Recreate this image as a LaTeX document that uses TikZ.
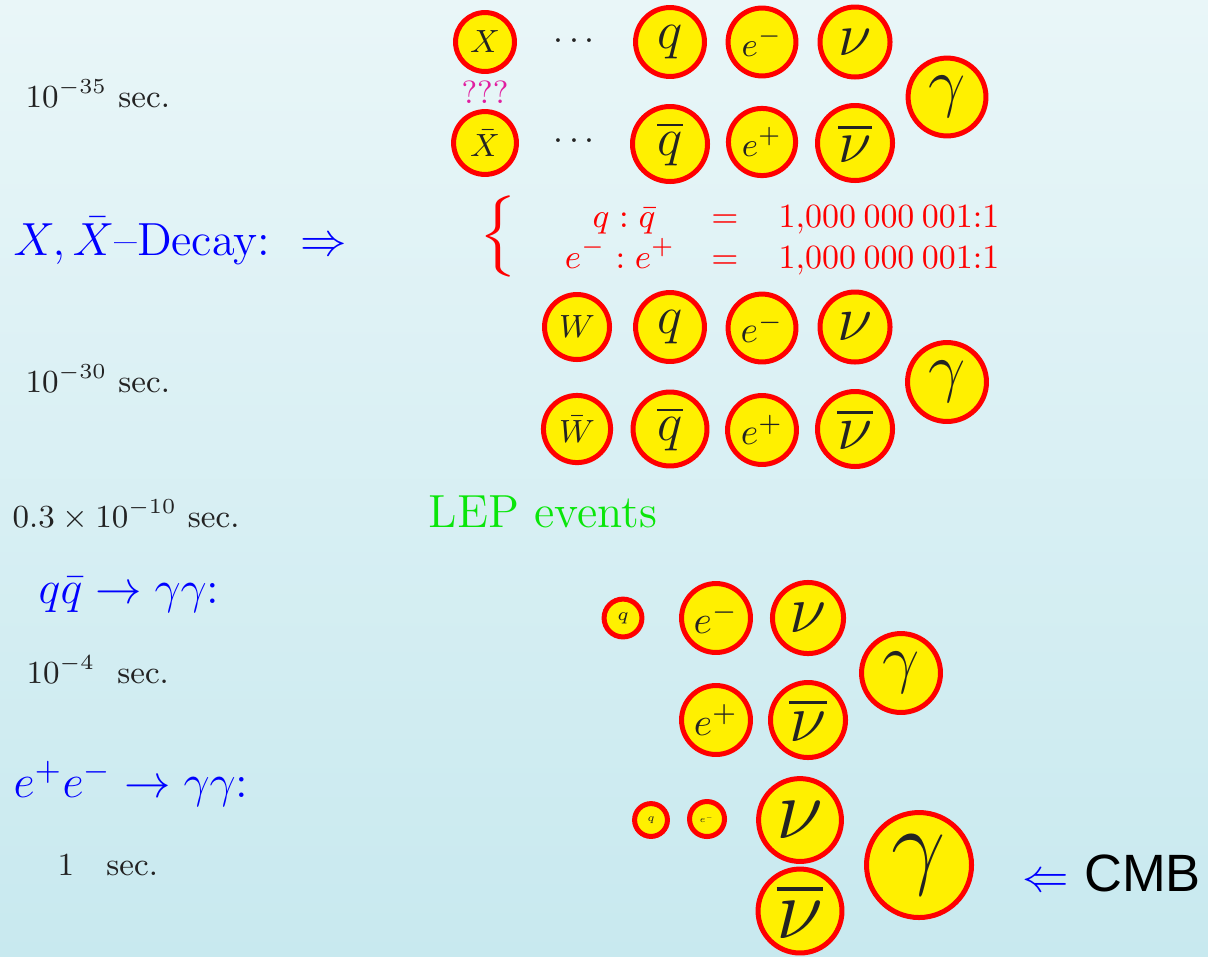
\RequirePackage{fix-cm}
\documentclass[tikz,border=0pt]{standalone}
\usepackage{amsmath,amssymb}
\usepackage{fontspec}
\newfontfamily\cmbfont{Liberation Sans}
\usepackage{tikz}
\usetikzlibrary{shapes.geometric}
\usepackage{xcolor}
\definecolor{bgtop}{RGB}{233,246,248}
\definecolor{bgbot}{RGB}{200,233,239}
\definecolor{ptyellow}{RGB}{255,240,0}
\definecolor{ptred}{RGB}{255,0,0}
\definecolor{txtgray}{RGB}{35,35,35}
\definecolor{lepgreen}{RGB}{10,230,10}
\definecolor{qmagenta}{RGB}{225,30,160}
\definecolor{decblue}{RGB}{0,0,255}
\newcommand{\fs}[1]{\fontsize{#1}{1.2\dimexpr#1pt\relax}\selectfont}
\tikzset{
    ptcl/.style={circle, draw=ptred, fill=ptyellow, line width=1.4pt,
                 minimum size=#1, inner sep=0pt, text=txtgray},
    tlbl/.style={anchor=base west, inner sep=0pt, text=txtgray, font=\fs{9}},
    blbl/.style={anchor=base west, inner sep=0pt, text=decblue, font=\fs{13}},
    ratio/.style={inner sep=0pt, text=ptred, font=\fs{9.5}},
}

\begin{document}
\begin{tikzpicture}[x=0.28pt, y=-0.28pt]
    % background
    \fill[top color=bgtop, bottom color=bgbot] (0,0) rectangle (1208,956);
    \useasboundingbox (0,0) rectangle (1208,956);

    % time line on the left
    \node[tlbl] (t35)  at (25,107)  {$10^{-35}$ sec.};
    \node[blbl] (xdec) at (13,255)  {$X,\bar X$--Decay:~~$\Rightarrow$};
    \node[tlbl] (t30)  at (25,392)  {$10^{-30}$ sec.};
    \node[tlbl] (t10)  at (12,527)  {$0.3\times10^{-10}$ sec.};
    \node[blbl] (qqgg) at (38,603)  {$q\bar q\to\gamma\gamma$:};
    \node[tlbl] (t4)   at (26,683)  {$10^{-4}$~\ sec.};
    \node[blbl] (eegg) at (13,797)  {$e^+e^-\to\gamma\gamma$:};
    \node[tlbl] (t1)   at (57,875)  {$1$\quad sec.};

    % X era
    \node[ptcl=16.5pt, font=\fs{9}]    (X)    at (485,42)  {$X$};
    \node[ptcl=17.6pt, font=\fs{9}]    (Xb)   at (485,143) {$\bar X$};
    \node[inner sep=0pt, text=qmagenta, font=\fs{9}] (qqq) at (485,92) {???};
    \node[text=txtgray, font=\fs{10}]  (dots1) at (577,42)  {$\cdots$};
    \node[text=txtgray, font=\fs{10}]  (dots2) at (577,142) {$\cdots$};
    \node[ptcl=19.3pt, font=\fs{15}]   (q1)   at (670,42)  {$q$};
    \node[ptcl=19.0pt, font=\fs{9.5}]  (em1)  at (762,42)  {$e^-$};
    \node[ptcl=19.6pt, font=\fs{17}]   (nu1)  at (855,42)  {$\nu$};
    \node[ptcl=21.8pt, font=\fs{18.5}] (gam1) at (947,97)  {$\gamma$};
    \node[ptcl=21.0pt, font=\fs{15}]   (qb1)  at (670,144) {$\overline{q}$};
    \node[ptcl=18.8pt, font=\fs{9.5}]  (ep1)  at (762,142) {$e^+$};
    \node[ptcl=21.0pt, font=\fs{17}]   (nub1) at (855,143) {$\overline{\nu}$};

    % asymmetry
    \node[inner sep=0pt, text=ptred, font=\fs{19}] (brace) at (500,236)
        {$\left\{\vcenter{\hbox{\vrule height 24pt width 0pt}}\right.$};
    \node[ratio, anchor=base]      (r1l) at (624,227) {$q:\bar q$};
    \node[ratio, anchor=base]      (r1e) at (725,227) {$=$};
    \node[ratio, anchor=base west] (r1v) at (778,227) {1,000\:000\:001:1};
    \node[ratio, anchor=base]      (r2l) at (620,268) {$e^-:e^+$};
    \node[ratio, anchor=base]      (r2e) at (725,268) {$=$};
    \node[ratio, anchor=base west] (r2v) at (778,268) {1,000\:000\:001:1};

    % W era
    \node[ptcl=18.2pt, font=\fs{9}]    (W)    at (577,327) {$W$};
    \node[ptcl=19.3pt, font=\fs{15}]   (q2)   at (670,327) {$q$};
    \node[ptcl=19.0pt, font=\fs{10.5}] (em2)  at (762,328) {$e^-$};
    \node[ptcl=19.6pt, font=\fs{18}]   (nu2)  at (855,327) {$\nu$};
    \node[ptcl=22.1pt, font=\fs{18.5}] (gam2) at (947,382) {$\gamma$};
    \node[ptcl=18.8pt, font=\fs{9}]    (Wb)   at (577,429) {$\bar W$};
    \node[ptcl=20.7pt, font=\fs{15}]   (qb2)  at (670,429) {$\overline{q}$};
    \node[ptcl=19.3pt, font=\fs{10.5}] (ep2)  at (762,430) {$e^+$};
    \node[ptcl=21.0pt, font=\fs{18}]   (nub2) at (855,429) {$\overline{\nu}$};

    % LEP era
    \node[anchor=base west, inner sep=0pt, text=lepgreen, font=\fs{13}] (lep) at (428,527) {LEP events};
    \node[ptcl=10.6pt, font=\fs{5}]    (q3)   at (623,618) {$q$};
    \node[ptcl=19.3pt, font=\fs{11}]   (em3)  at (716,618) {$e^-$};
    \node[ptcl=19.9pt, font=\fs{19}]   (nu3)  at (808,618) {$\nu$};
    \node[ptcl=22.1pt, font=\fs{18.5}] (gam3) at (901,673) {$\gamma$};
    \node[ptcl=19.3pt, font=\fs{11}]   (ep3)  at (716,720) {$e^+$};
    \node[ptcl=21.0pt, font=\fs{19}]   (nub3) at (808,720) {$\overline{\nu}$};

    % today
    \node[ptcl=9.2pt,  font=\fs{3}]    (q4)   at (651,820) {$q$};
    \node[ptcl=9.8pt,  font=\fs{2.5}]  (em4)  at (707,819) {$e^-$};
    \node[ptcl=23.2pt, font=\fs{24}]   (nu4)  at (800,820) {$\nu$};
    \node[ptcl=23.5pt, font=\fs{24}]   (nub4) at (800,911) {$\overline{\nu}$};
    \node[ptcl=29.4pt, font=\fs{27}]   (gam4) at (919,865) {$\gamma$};
    \node[anchor=base west, inner sep=0pt, font=\fs{13}] (cmb) at (1022,891)
        {\textcolor{decblue}{$\Leftarrow$}\ {\cmbfont\fs{14.7}CMB}};
\end{tikzpicture}
\end{document}
